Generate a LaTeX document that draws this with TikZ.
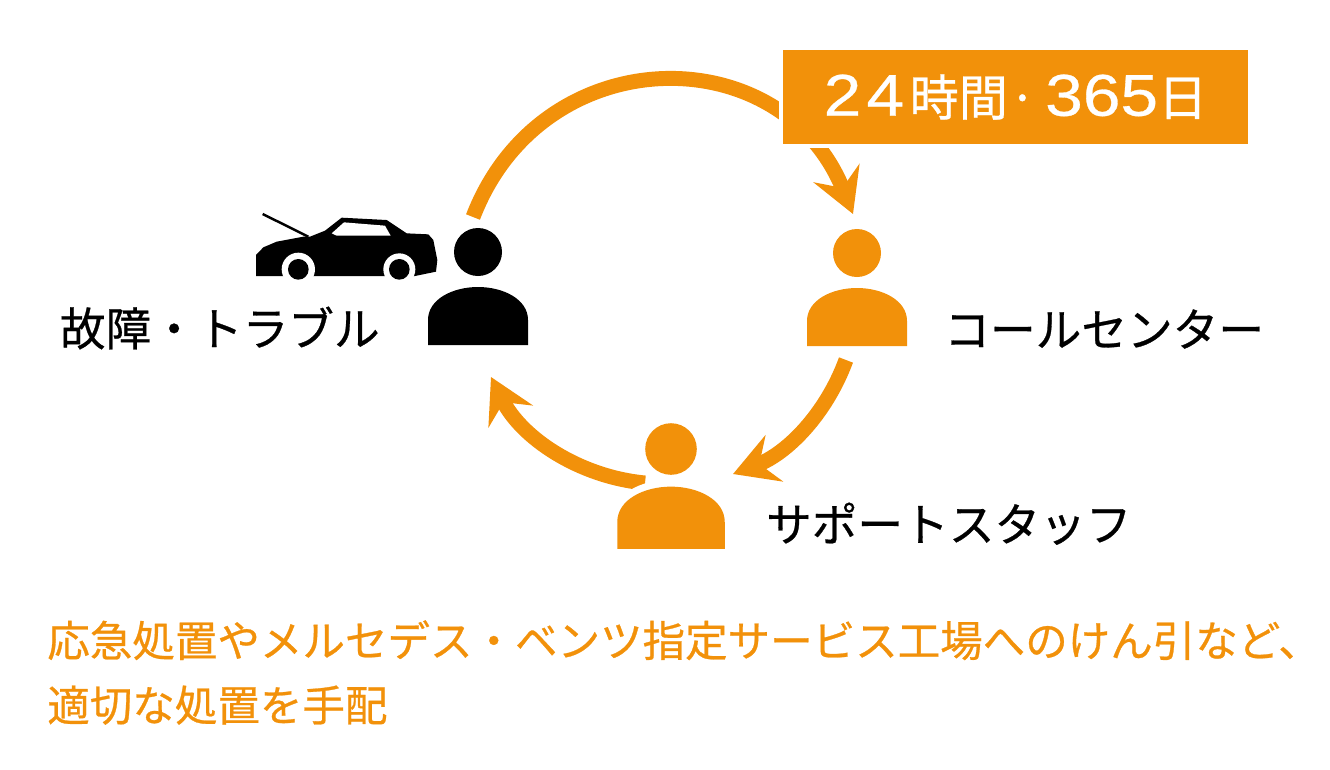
\documentclass[tikz,border=0pt]{standalone}
\usepackage{fontspec}
\setmainfont[FakeBold=0.6]{Noto Sans CJK JP}
\newfontfamily\boxdigits[FakeStretch=1.15, FakeBold=0.5]{Liberation Sans}
\usetikzlibrary{arrows.meta, positioning}

\definecolor{assistorange}{HTML}{F2910A}

\tikzset{
    flow/.style={draw=assistorange, line width=8.5pt,
        -{Stealth[length=25pt, width=28pt, inset=9pt, fill=assistorange]}},
    caption/.style={inner sep=0pt, font=\fontsize{26pt}{30pt}\selectfont},
    person/.pic={
        \path[fill, preaction={draw=white, line width=8pt}] (-50,93) -- (-50,68)
            .. controls (-50,47) and (-25,35) .. (0,35)
            .. controls (25,35) and (50,47) .. (50,68) -- (50,93) -- cycle;
        \fill (0,0) circle[radius=24];
        \coordinate (-east) at (50,76);
        \coordinate (-west) at (-50,76);
    },
}

\begin{document}
\begin{tikzpicture}[x=0.02cm, y=-0.02cm]
    \path[use as bounding box] (0,0) rectangle (1330,769);

    % Ends of the arrows
    \coordinate (troubleout) at (473,217);
    \coordinate (callin) at (853,214);
    \coordinate (callout) at (846,360);
    \coordinate (staffin) at (733,474);
    \coordinate (staffout) at (645,483);
    \coordinate (troublein) at (491,377);

    % Arrows
    \draw[flow] (troubleout) to[bend left=68.5, looseness=1.29] (callin);
    \draw[flow] (callout) to[bend left=24.5, looseness=0.92] (staffin);
    \draw[flow] (staffout) to[bend left=29, looseness=0.92] (troublein);

    % People
    \pic[black] (trouble) at (478,252) {person};
    \pic[assistorange] (call) at (857,253) {person};
    \pic[assistorange, scale=1.075] (staff) at (671,449) {person};

    % Car
    \begin{scope}[shift={(240,190)}, scale=1/3]
        \draw[line width=1.4pt] (68,72) -- (205,140);
        \fill (48,258) -- (48,195) -- (70,172) -- (110,155) -- (190,140) -- (210,140)
            -- (255,122) -- (305,83) -- (440,90) -- (500,130) -- (565,133) -- (580,150)
            -- (592,210) -- (588,245) -- (525,258) -- cycle;
        \fill[white] (275,130) -- (312,97) -- (435,107) -- (452,137) -- (290,137) -- cycle;
        \fill[white] (175,238) circle[radius=50];
        \fill[white] (478,238) circle[radius=48];
        \fill (175,238) circle[radius=31];
        \fill (478,238) circle[radius=31];
    \end{scope}

    % Labels
    \node (hours) [fill=assistorange, text=white, inner sep=0pt, minimum width=9.3cm, minimum height=1.88cm,
        preaction={draw=white, line width=5pt}, font=\fontsize{28pt}{30pt}\selectfont] at (1015.5,97)
        {\raisebox{-0.5pt}{{\boxdigits\fontsize{33.5pt}{30pt}\selectfont 2\hspace{3pt}4}\hspace{3pt}時間\hspace{0.5pt}·\hspace{5pt}{\boxdigits\fontsize{33.5pt}{30pt}\selectfont 365}日}};
    \node (troublelabel) [caption, left=0.96cm of trouble-west] {故障・トラブル};
    \node (calllabel) [caption, right=0.74cm of call-east] {コールセンター};
    \node (stafflabel) [caption, right=0.82cm of staff-east, yshift=0.14cm] {サポートスタッフ};
    \node (note) [inner sep=0pt, text=assistorange, align=left, anchor=north west,
        font=\fontsize{24.2pt}{36.8pt}\selectfont] at (47,620)
        {応急処置やメルセデス・ベンツ指定サービス工場へのけん引など、\\適切な処置を手配};
\end{tikzpicture}
\end{document}
